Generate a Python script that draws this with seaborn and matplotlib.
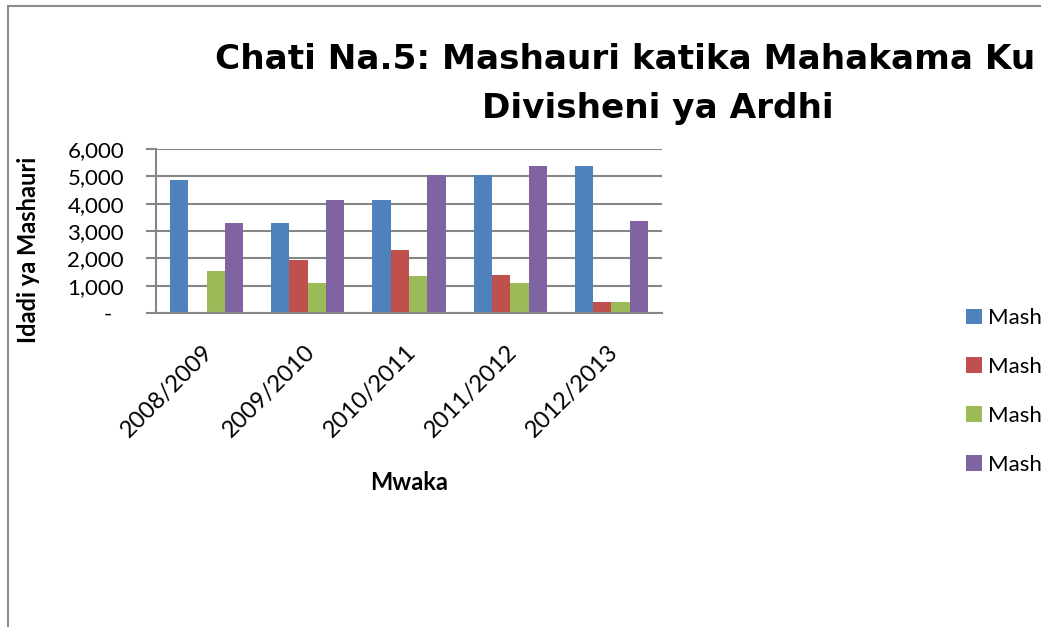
import matplotlib
matplotlib.use("Agg")
import matplotlib.pyplot as plt
import seaborn as sns
import pandas as pd
from matplotlib.patches import Rectangle
from matplotlib.ticker import FuncFormatter, MultipleLocator
from matplotlib.transforms import ScaledTranslation

years = ["2008/2009", "2009/2010", "2010/2011", "2011/2012", "2012/2013"]
series_keys = ["s1", "s2", "s3", "s4"]
legend_labels = ["Mash", "Mash", "Mash", "Mash"]
mwanzo = [4850, 3290, 4125, 5067, 5373]
fungua = [0, 1935, 2300, 1408, 404]
amuliwa = [1530, 1090, 1370, 1090, 404]
mwisho = [3290, 4125, 5067, 5373, 3378]
colors = ["#4F81BD", "#C0504D", "#9BBB59", "#8064A2"]
title_line1 = "Chati Na.5: Mashauri katika Mahakama Ku"
title_line2 = "Divisheni ya Ardhi"

rows = []
for name, vals in zip(series_keys, [mwanzo, fungua, amuliwa, mwisho]):
    for y, v in zip(years, vals):
        rows.append({"Mwaka": y, "Series": name, "Value": v})
df = pd.DataFrame(rows)

sns.set_theme(style="white")
plt.rcParams["font.family"] = ["Lato", "DejaVu Sans"]
plt.rcParams.update({"text.color": "black", "axes.labelcolor": "black",
                     "xtick.color": "black", "ytick.color": "black"})

W, H = 1041, 627
fig = plt.figure(figsize=(W / 100, H / 100), dpi=100)
ax = fig.add_axes([156 / W, 1 - 313 / H, (662 - 156) / W, (313 - 149) / H])

sns.barplot(data=df, x="Mwaka", y="Value", hue="Series", hue_order=series_keys,
            palette=colors, width=0.724, ax=ax, saturation=1, linewidth=0,
            legend=True)

ax.set_ylim(0, 6000)
ax.set_xlim(-0.5, 4.5)
ax.yaxis.set_major_locator(MultipleLocator(1000))
ax.yaxis.set_major_formatter(FuncFormatter(lambda v, p: "-  " if v == 0 else f"{v:,.0f}"))
ax.grid(axis="y", color="#868686", linewidth=1.5)
ax.set_axisbelow(True)
for s in ["top", "right"]:
    ax.spines[s].set_visible(False)
for s in ["left", "bottom"]:
    ax.spines[s].set_color("#868686")
    ax.spines[s].set_linewidth(1.5)
ax.tick_params(axis="y", which="major", left=True, length=7, width=1.5, color="#868686",
               labelsize=16, pad=16, labelcolor="black")
ax.tick_params(axis="x", bottom=False, labelsize=17, pad=14, labelcolor="black")
shift = ScaledTranslation(-4 / 100, 0, fig.dpi_scale_trans)
for lab in ax.get_xticklabels():
    lab.set_rotation(45)
    lab.set_ha("right")
    lab.set_va("top")
    lab.set_rotation_mode("anchor")
    lab.set_transform(lab.get_transform() + shift)

ax.set_xlabel("Mwaka", fontsize=17, fontweight="bold")
ax.set_ylabel("Idadi ya Mashauri", fontsize=17, fontweight="bold")
ax.xaxis.label.set_va("center")
ax.xaxis.set_label_coords(0.5, -(483 - 313) / (313 - 149))
ax.yaxis.set_label_coords(-(156 - 29) / (662 - 156), (313 - 250) / (313 - 149))
ax.yaxis.label.set_va("center")

handles, _ = ax.get_legend_handles_labels()
ax.get_legend().remove()
fig.legend(handles, legend_labels, loc="upper left", bbox_to_anchor=(955 / W, 1 - 297 / H),
           frameon=False, fontsize=16, handlelength=0.7, handleheight=0.7,
           handletextpad=0.3, labelspacing=1.3, borderpad=0)

# title (two lines, as in the reference)
t1 = fig.text(215 / W, 1 - 69 / H, title_line1, ha="left", va="baseline",
              fontsize=26, fontweight="bold", family=["DejaVu Sans"])
fig.canvas.draw()
r = fig.canvas.get_renderer()
bb = t1.get_window_extent(r)
fs = 26 * (1036 - 215) / bb.width
t1.set_fontsize(fs)
fig.text(658 / W, 1 - 118 / H, title_line2, ha="center", va="baseline",
         fontsize=fs, fontweight="bold", family=["DejaVu Sans"])

fig.patches.append(Rectangle((8 / W, -0.1), 1.2, 1.1 - 6 / H, transform=fig.transFigure,
                             fill=False, edgecolor="#8c8c8c", linewidth=1.5))

fig.savefig("out.png", dpi=100)
